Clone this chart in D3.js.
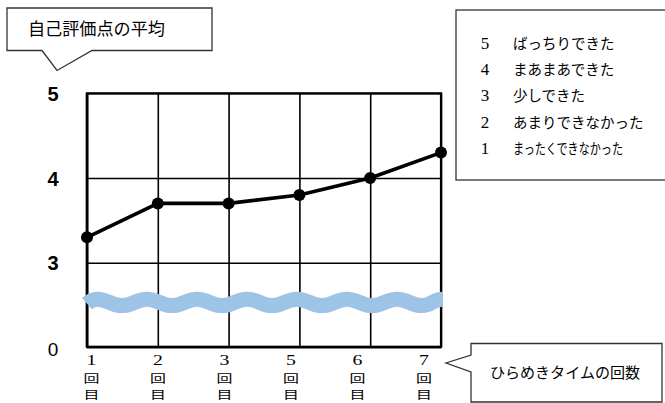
<!DOCTYPE html>
<html>
<head>
<meta charset="utf-8">
<script src="https://cdn.jsdelivr.net/npm/d3@7"></script>
<style>
  html, body { margin: 0; padding: 0; background: #fff; }
  svg { display: block; }
</style>
</head>
<body>
<svg id="chart" width="665" height="403"></svg>
<script>
// Session labels (number + counter, stacked vertically)
const sessions = ["1", "2", "3", "5", "6", "7"];
const sessionSuffix = ["回", "目"];
// Average self-evaluation score per session
const averages = [3.3, 3.7, 3.7, 3.8, 4.0, 4.3];
// Y axis ticks (axis is broken between 0 and 3)
const yTicks = [0, 3, 4, 5];
// Rating scale legend
const legendScores = ["5", "4", "3", "2", "1"];
const legendTexts = ["ばっちりできた", "まあまあできた", "少しできた", "あまりできなかった", "まったくできなかった"];
const titleText = "自己評価点の平均";
const xTitleText = "ひらめきタイムの回数";

const svg = d3.select("#chart");
const plotL = 87, plotR = 441, plotT = 93.3, plotB = 347;
const jp = "'Noto Sans CJK JP', 'Noto Sans', sans-serif";
const serif = "'Liberation Serif', 'DejaVu Serif', serif";

const x = d3.scalePoint().domain(sessions).range([plotL, plotR]);
// Label row is laid out on its own, slightly narrower spacing
const xLabel = d3.scalePoint().domain(sessions).range([91.5, 424]);
// Piecewise scale: 0–3 squeezed into one band, then equal bands for 3–4–5
const y = d3.scaleLinear().domain([0, 3, 4, 5]).range([plotB, 262.7, 178, plotT]);

// Horizontal gridlines
const gy = svg.append("g").attr("transform", `translate(${plotL},0)`)
  .call(d3.axisLeft(y).tickValues(yTicks).tickSize(-(plotR - plotL)).tickFormat(""));
gy.select(".domain").remove();
gy.selectAll(".tick line").attr("stroke", "#000").attr("stroke-width", 1.6);

// Vertical gridlines
const gx = svg.append("g").attr("transform", `translate(0,${plotB})`)
  .call(d3.axisBottom(x).tickSize(-(plotB - plotT)).tickFormat(""));
gx.select(".domain").remove();
gx.selectAll(".tick line").attr("stroke", "#000").attr("stroke-width", 1.6);

// Outer frame
svg.append("rect").attr("x", plotL).attr("y", plotT)
  .attr("width", plotR - plotL).attr("height", plotB - plotT)
  .attr("fill", "none").attr("stroke", "#000").attr("stroke-width", 2.2);
svg.append("line").attr("x1", plotL).attr("x2", plotR).attr("y1", plotB).attr("y2", plotB)
  .attr("stroke", "#000").attr("stroke-width", 2.6);
svg.append("line").attr("x1", plotL).attr("x2", plotL).attr("y1", plotT).attr("y2", plotB)
  .attr("stroke", "#000").attr("stroke-width", 2.6);

// Axis-break wave between 0 and 3
const waveY = (y(0) + y(3)) / 2 - 2.5;
const half = 25, amp = 3.2;
const wp = d3.path();
let wx = plotL;
wp.moveTo(wx, waveY + amp * 0.4);
wp.quadraticCurveTo(wx + 5, waveY - amp, plotL + 10, waveY - amp);
wx = plotL + 10;
let up = false;
while (wx < plotR + 2) {
  const nx = Math.min(wx + half, plotR + 2);
  const cy = up ? waveY - amp : waveY + amp;
  wp.bezierCurveTo(wx + half * 0.45, up ? waveY + amp : waveY - amp, nx - half * 0.45, cy, nx, cy);
  wx = nx; up = !up;
}
svg.append("path").attr("d", wp.toString())
  .attr("fill", "none").attr("stroke", "#9dc3e6").attr("stroke-width", 15);

// Y tick labels
svg.append("g").selectAll("text").data(yTicks).join("text")
  .attr("x", 53).attr("y", d => y(d) + (d === 0 ? 9 : 7.5))
  .attr("text-anchor", "middle")
  .attr("font-family", "'Liberation Sans', Arial, sans-serif")
  .attr("font-size", d => d === 0 ? 19 : 20)
  .attr("font-weight", d => d === 0 ? "normal" : "bold")
  .text(d => d);

// X tick labels: number, 回, 目 stacked in one vertically squeezed text
const sy = 0.8;
const xt = svg.append("g").selectAll("text").data(sessions).join("text")
  .attr("transform", d => `translate(${xLabel(d)},0) scale(1.1,${sy})`)
  .attr("text-anchor", "middle");
xt.append("tspan").attr("x", 0).attr("y", 365.5 / sy)
  .attr("font-family", serif).attr("font-size", 18).text(d => d);
sessionSuffix.forEach((s, i) => {
  xt.append("tspan").attr("x", 0).attr("y", (383 + i * 16.5) / sy)
    .attr("font-family", jp).attr("font-size", 14.5).text(s);
});

// Data line and markers
const line = d3.line().x((d, i) => x(sessions[i])).y(d => y(d));
svg.append("path").datum(averages).attr("d", line)
  .attr("fill", "none").attr("stroke", "#000").attr("stroke-width", 3.6)
  .attr("stroke-linejoin", "round");
svg.append("g").selectAll("circle").data(averages).join("circle")
  .attr("cx", (d, i) => x(sessions[i])).attr("cy", d => y(d)).attr("r", 6)
  .attr("fill", "#000");

// Title callout
svg.append("path")
  .attr("d", "M7,8 H212 V50.5 H92 L57,70.5 L42,50.5 H7 Z")
  .attr("fill", "#fff").attr("stroke", "#333").attr("stroke-width", 1.3);
svg.append("text").attr("x", 28).attr("y", 35)
  .attr("font-family", jp).attr("font-size", 17.5)
  .attr("textLength", 137).attr("lengthAdjust", "spacingAndGlyphs")
  .text(titleText);

// Legend box
svg.append("rect").attr("x", 456).attr("y", 10).attr("width", 220).attr("height", 170)
  .attr("fill", "#fff").attr("stroke", "#333").attr("stroke-width", 1.3);
const lg = svg.append("g").selectAll("g").data(legendScores).join("g")
  .attr("transform", (d, i) => `translate(0,${49 + i * 26.2})`);
lg.append("text").attr("x", 485).attr("text-anchor", "middle")
  .attr("font-family", serif).attr("font-size", 17).text(d => d);
lg.append("text").attr("x", 513)
  .attr("font-family", jp).attr("font-size", 14.5)
  .attr("textLength", (d, i) => i === 4 ? 110 : null)
  .attr("lengthAdjust", "spacingAndGlyphs")
  .text((d, i) => legendTexts[i]);

// X axis title callout
svg.append("path")
  .attr("d", "M471,343.5 H662 V402 H471 V372 L446,363 L471,355 Z")
  .attr("fill", "#fff").attr("stroke", "#333").attr("stroke-width", 1.3);
svg.append("text").attr("x", 490).attr("y", 378)
  .attr("font-family", jp).attr("font-size", 15)
  .attr("textLength", 150).attr("lengthAdjust", "spacingAndGlyphs")
  .text(xTitleText);
</script>
</body>
</html>
